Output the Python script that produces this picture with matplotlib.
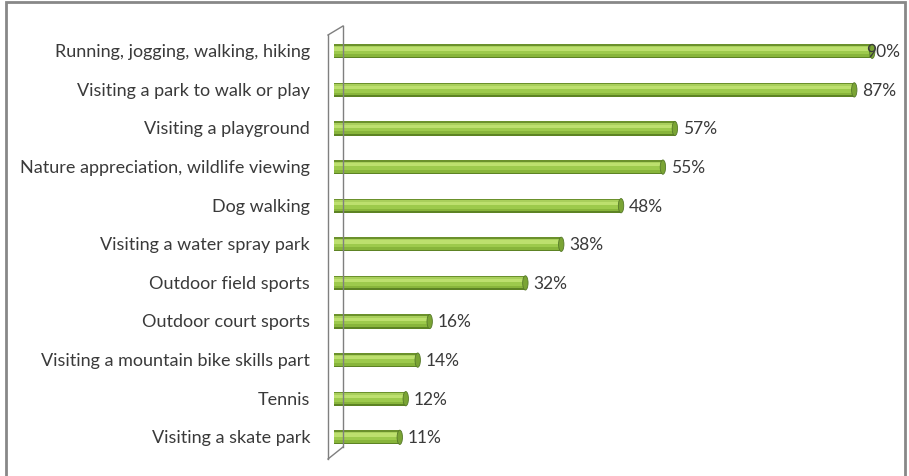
import matplotlib.pyplot as plt
from matplotlib.lines import Line2D
from matplotlib.patches import Ellipse, Rectangle

activities = [
    "Running, jogging, walking, hiking",
    "Visiting a park to walk or play",
    "Visiting a playground",
    "Nature appreciation, wildlife viewing",
    "Dog walking",
    "Visiting a water spray park",
    "Outdoor field sports",
    "Outdoor court sports",
    "Visiting a mountain bike skills part",
    "Tennis",
    "Visiting a skate park",
]
percent = [90, 87, 57, 55, 48, 38, 32, 16, 14, 12, 11]

W, H = 909, 477
fig = plt.figure(figsize=(W / 100, H / 100), dpi=100)
plt.rcParams['font.family'] = ['Lato', 'DejaVu Sans']

# axes placed in pixel terms: x=0 at 334px, 100% spans 598px
ax = fig.add_axes([334 / W, (H - 457.6) / H, 598 / W, 424.6 / H])
ax.set_xlim(0, 100)
ax.set_ylim(len(activities) - 0.5, -0.5)
ax.axis('off')

ypos = list(range(len(activities)))
bh = 0.37

# cylinder shading: stacked horizontal bands, dark rim -> highlight -> dark rim
bands = [
    (0.00, 0.12, '#6b912c'),
    (0.12, 0.22, '#a9cf5c'),
    (0.22, 0.45, '#bde06e'),
    (0.45, 0.70, '#9dca4c'),
    (0.70, 0.88, '#88b53b'),
    (0.88, 1.00, '#5d8324'),
]
for f0, f1, col in bands:
    centers = [y - bh / 2 + bh * (f0 + f1) / 2 for y in ypos]
    ax.barh(centers, percent, height=bh * (f1 - f0), color=col,
            linewidth=0, zorder=3)

# end caps
for y, v in zip(ypos, percent):
    ax.add_patch(Ellipse((v, y), 0.9, bh, facecolor='#7aa434',
                         edgecolor='#56792a', linewidth=0.6, zorder=4))

# value labels
for y, v in zip(ypos, percent):
    xt = min(v + 1.3, 89.0)
    ax.text(xt, y, f"{v}%", ha='left', va='center', fontsize=12.5,
            color='#3a3a3a', zorder=5)

# category labels
for y, name in zip(ypos, activities):
    ax.text(-4.0, y, name, ha='right', va='center', fontsize=13,
            color='#3a3a3a')

# 3-D side wall
wall = '#7f7f7f'
segs = [
    ((328, 36), (328, 460)),
    ((343, 27), (343, 448)),
    ((328, 36), (343, 27)),
    ((328, 460), (343, 448)),
]
for (x0, y0), (x1, y1) in segs:
    fig.add_artist(Line2D([x0 / W, x1 / W], [1 - y0 / H, 1 - y1 / H],
                          color=wall, linewidth=1.0, zorder=1))

# outer frame
fig.add_artist(Rectangle((6 / W, -0.05), 899 / W, 1.05 - 3 / H,
                         transform=fig.transFigure, fill=False,
                         edgecolor='#888888', linewidth=2.0))

fig.savefig('out.png', dpi=100)
